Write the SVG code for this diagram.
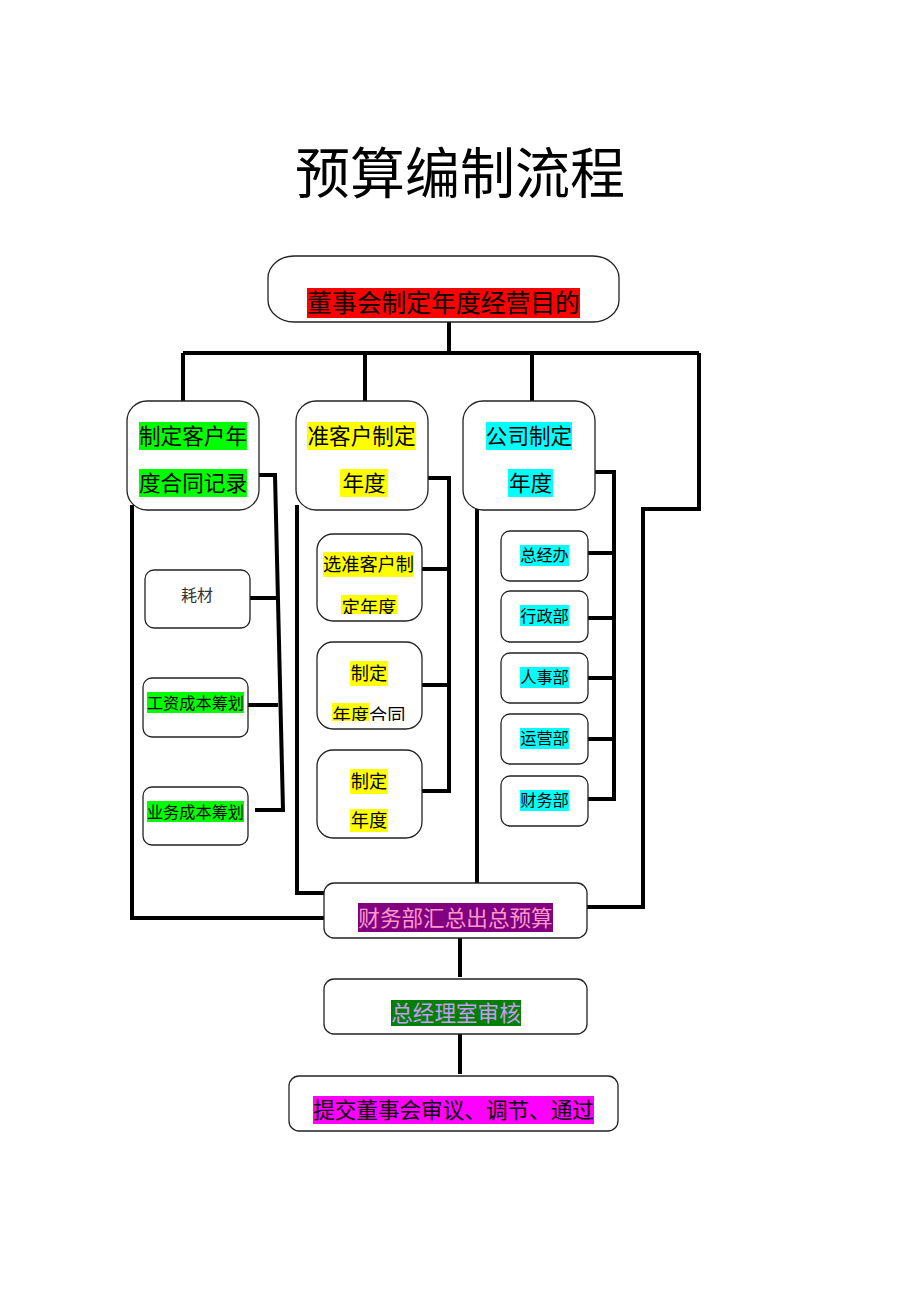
<svg xmlns="http://www.w3.org/2000/svg" width="920" height="1302" viewBox="0 0 920 1302">
<style>
.box{fill:#fff;stroke:#222;stroke-width:1.3}
.ln{fill:none;stroke:#000;stroke-width:4;stroke-linejoin:miter}
.t{font-family:"Noto Sans CJK SC","Liberation Sans",sans-serif;fill:#000;text-anchor:middle}
.pk{fill:#ff99cc}
.lv{fill:#cc99ff}
.gr{fill:#333}
</style>
<defs>
<clipPath id="c1"><rect x="317" y="534" width="105" height="80"/></clipPath>
<clipPath id="c2"><rect x="317" y="642" width="105" height="79"/></clipPath>
</defs>
<rect width="920" height="1302" fill="#fff"/>
<text class="t" x="460" y="193" font-size="55">预算编制流程</text>

<g id="connectors" class="ln">
<path d="M449 322V353M183 353H699M183 353V401M365 353V401M532 353V401"/>
<path d="M699 353V509H643V907H587"/>
<path d="M259 475H275L283 810H255M250 598H276M248 705H278"/>
<path d="M132 505V918H325"/>
<path d="M297 505V893H325"/>
<path d="M428 478H449V791H422M422 569H449M422 685H449"/>
<path d="M477 505V883"/>
<path d="M595 472H614V799H588M588 553H614M588 618H614M588 678H614M588 739H614"/>
<path d="M460 938V977M460 1034V1074"/>
</g>

<g id="n-top">
<rect class="box" x="268" y="256" width="351" height="66" rx="26" ry="22"/>
<rect x="307" y="288" width="273" height="30" fill="#ff0000"/>
<text class="t" x="443.5" y="312" font-size="24.8">董事会制定年度经营目的</text>
</g>

<g id="n-b1">
<rect class="box" x="127" y="401" width="132" height="109" rx="20"/>
<rect x="139" y="422" width="108" height="28" fill="#00ff00"/>
<rect x="139" y="469" width="108" height="28" fill="#00ff00"/>
<text class="t" x="193" y="444" font-size="21.6">制定客户年</text>
<text class="t" x="193" y="491" font-size="21.6">度合同记录</text>
</g>

<g id="n-b2">
<rect class="box" x="296" y="401" width="132" height="109" rx="20"/>
<rect x="307" y="422" width="109" height="28" fill="#ffff00"/>
<rect x="340" y="469" width="48" height="28" fill="#ffff00"/>
<text class="t" x="361.5" y="444" font-size="21.6">准客户制定</text>
<text class="t" x="364" y="491" font-size="21.6">年度</text>
</g>

<g id="n-b3">
<rect class="box" x="463" y="401" width="132" height="109" rx="20"/>
<rect x="486" y="422" width="86" height="28" fill="#00ffff"/>
<rect x="508" y="469" width="45" height="28" fill="#00ffff"/>
<text class="t" x="529" y="444" font-size="21.6">公司制定</text>
<text class="t" x="530.5" y="491" font-size="21.6">年度</text>
</g>

<g id="n-haocai">
<rect class="box" x="145" y="570" width="105" height="58" rx="9"/>
<text class="t gr" x="197" y="601" font-size="16">耗材</text>
</g>
<g id="n-gongzi">
<rect class="box" x="143" y="678" width="105" height="59" rx="9"/>
<rect x="147" y="692" width="97" height="21" fill="#00ff00"/>
<text class="t" x="195.5" y="708.5" font-size="16.2">工资成本筹划</text>
</g>
<g id="n-yewu">
<rect class="box" x="143" y="787" width="105" height="58" rx="9"/>
<rect x="147" y="801" width="97" height="21" fill="#00ff00"/>
<text class="t" x="195.5" y="817.5" font-size="16.2">业务成本筹划</text>
</g>

<g id="n-c21">
<rect class="box" x="317" y="534" width="105" height="87" rx="16"/>
<g clip-path="url(#c1)">
<rect x="323" y="552" width="91" height="25" fill="#ffff00"/>
<rect x="341" y="595" width="56" height="25" fill="#ffff00"/>
<text class="t" x="368.5" y="571" font-size="18.2">选准客户制</text>
<text class="t" x="369" y="614" font-size="18.2">定年度</text>
</g>
</g>
<g id="n-c22">
<rect class="box" x="317" y="642" width="105" height="87" rx="16"/>
<rect x="350" y="661" width="38" height="25" fill="#ffff00"/>
<text class="t" x="369" y="680" font-size="18.2">制定</text>
<g clip-path="url(#c2)">
<rect x="332" y="703" width="37" height="25" fill="#ffff00"/>
<text class="t" x="369" y="722" font-size="18.2">年度合同</text>
</g>
</g>
<g id="n-c23">
<rect class="box" x="317" y="750" width="105" height="88" rx="16"/>
<rect x="350" y="769" width="38" height="25" fill="#ffff00"/>
<rect x="350" y="809" width="38" height="23" fill="#ffff00"/>
<text class="t" x="369" y="788" font-size="18.2">制定</text>
<text class="t" x="369" y="827" font-size="18.2">年度</text>
</g>

<g id="n-d1">
<rect class="box" x="501" y="531" width="87" height="50" rx="9"/>
<rect x="520" y="545" width="49" height="21" fill="#00ffff"/>
<text class="t" x="544.5" y="561" font-size="16.2">总经办</text>
</g>
<g id="n-d2">
<rect class="box" x="501" y="591" width="87" height="51" rx="9"/>
<rect x="520" y="605" width="49" height="21" fill="#00ffff"/>
<text class="t" x="544.5" y="621.5" font-size="16.2">行政部</text>
</g>
<g id="n-d3">
<rect class="box" x="501" y="653" width="87" height="50" rx="9"/>
<rect x="520" y="667" width="49" height="21" fill="#00ffff"/>
<text class="t" x="544.5" y="683" font-size="16.2">人事部</text>
</g>
<g id="n-d4">
<rect class="box" x="501" y="714" width="87" height="50" rx="9"/>
<rect x="520" y="728" width="49" height="21" fill="#00ffff"/>
<text class="t" x="544.5" y="744" font-size="16.2">运营部</text>
</g>
<g id="n-d5">
<rect class="box" x="501" y="776" width="87" height="50" rx="9"/>
<rect x="520" y="790" width="49" height="21" fill="#00ffff"/>
<text class="t" x="544.5" y="806" font-size="16.2">财务部</text>
</g>

<g id="n-sum">
<rect class="box" x="324" y="883" width="263" height="55" rx="10"/>
<rect x="358" y="903" width="195" height="29" fill="#800080"/>
<text class="t pk" x="455.5" y="925.5" font-size="21.6">财务部汇总出总预算</text>
</g>
<g id="n-gm">
<rect class="box" x="324" y="979" width="263" height="55" rx="10"/>
<rect x="391" y="1000" width="130" height="26" fill="#008000"/>
<text class="t lv" x="456" y="1021" font-size="21.6">总经理室审核</text>
</g>
<g id="n-board">
<rect class="box" x="289" y="1076" width="329" height="55" rx="10"/>
<rect x="313" y="1096" width="281" height="28" fill="#ff00ff"/>
<text class="t" x="453.5" y="1118" font-size="21.6">提交董事会审议、调节、通过</text>
</g>
</svg>
